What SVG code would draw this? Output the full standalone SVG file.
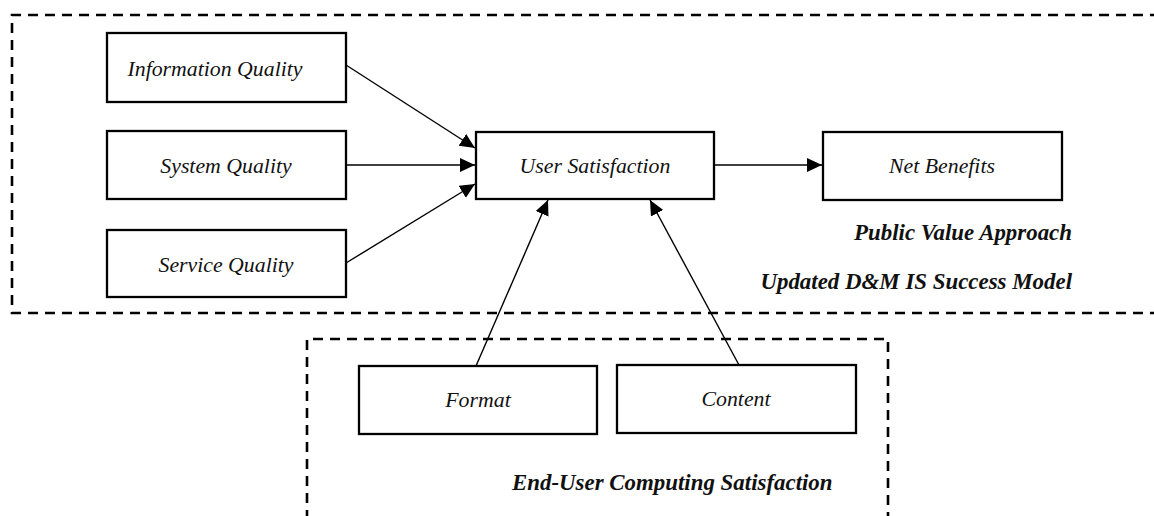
<svg xmlns="http://www.w3.org/2000/svg" width="1154" height="516" viewBox="0 0 1154 516">
<style>
.box{fill:#fff;stroke:#000;stroke-width:2.3}
.lbl{font-family:"Liberation Serif","Times New Roman",serif;font-style:italic;font-size:21.8px;fill:#111;text-anchor:middle}
.grp{font-family:"Liberation Serif","Times New Roman",serif;font-style:italic;font-weight:bold;font-size:22.9px;fill:#111}
.dash{fill:none;stroke:#000;stroke-width:2.6;stroke-dasharray:10 7}
.conn{fill:none;stroke:#000;stroke-width:1.4;marker-end:url(#ah)}
</style>
<defs>
<marker id="ah" markerUnits="userSpaceOnUse" markerWidth="16" markerHeight="16" refX="15" refY="7" orient="auto">
<path d="M0,0 L15,7 L0,14 Z" fill="#000"/>
</marker>
</defs>
<rect width="1154" height="516" fill="#fff"/>
<g id="frames">
<path class="dash" d="M1160,15 H12 V313 H1160"/>
<path class="dash" d="M307,520 V339 H888 V520"/>
</g>
<g id="connectors">
<line class="conn" x1="346" y1="65" x2="475" y2="148"/>
<line class="conn" x1="346" y1="165" x2="475" y2="165"/>
<line class="conn" x1="346" y1="263" x2="475" y2="184"/>
<line class="conn" x1="714" y1="165" x2="822" y2="165"/>
<line class="conn" x1="476" y1="366" x2="548" y2="200"/>
<line class="conn" x1="739" y1="365" x2="650" y2="200"/>
</g>
<g id="information-quality">
<rect class="box" x="107" y="33" width="239" height="69"/>
<text class="lbl" x="215" y="76">Information Quality</text>
</g>
<g id="system-quality">
<rect class="box" x="107" y="131" width="239" height="68"/>
<text class="lbl" x="226" y="173">System Quality</text>
</g>
<g id="service-quality">
<rect class="box" x="107" y="230" width="239" height="67"/>
<text class="lbl" x="226" y="272">Service Quality</text>
</g>
<g id="user-satisfaction">
<rect class="box" x="476" y="132" width="238" height="67"/>
<text class="lbl" x="595" y="173">User Satisfaction</text>
</g>
<g id="net-benefits">
<rect class="box" x="823" y="132" width="239" height="68"/>
<text class="lbl" x="942" y="173">Net Benefits</text>
</g>
<g id="format">
<rect class="box" x="359" y="366" width="238" height="68"/>
<text class="lbl" x="478" y="407">Format</text>
</g>
<g id="content">
<rect class="box" x="617" y="365" width="239" height="68"/>
<text class="lbl" x="736" y="406">Content</text>
</g>
<g id="labels">
<text class="grp" x="1072" y="240" text-anchor="end">Public Value Approach</text>
<text class="grp" x="1072" y="289" text-anchor="end">Updated D&amp;M IS Success Model</text>
<text class="grp" x="512" y="490">End-User Computing Satisfaction</text>
</g>
</svg>
